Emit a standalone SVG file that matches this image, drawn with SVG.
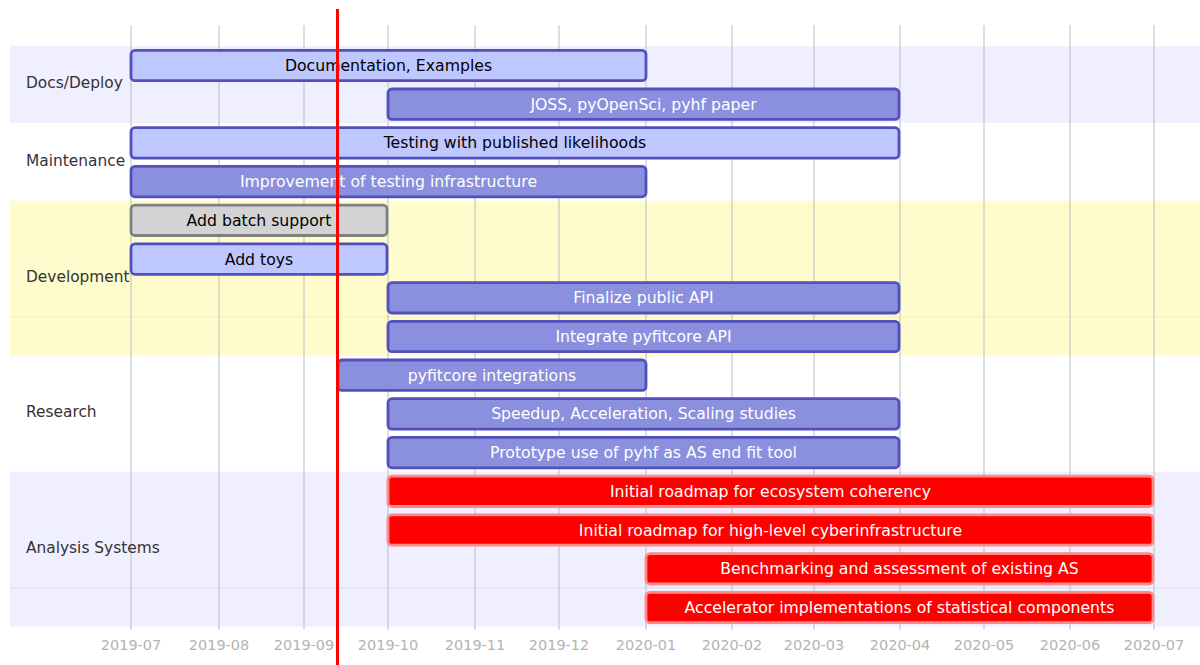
<svg xmlns="http://www.w3.org/2000/svg" width="1200" height="665" viewBox="0 0 1200 665">
  <style>
    text { font-family: "DejaVu Sans", Verdana, sans-serif; }
    .band-a { fill: #efefff; }
    .band-b { fill: #ffffff; }
    .band-c { fill: #fefbcc; }
    .grid { stroke: #bdbdbd; stroke-width: 1; }
    .tick { font-size: 14.5px; fill: #b3b3b3; text-anchor: middle; }
    .section { font-size: 15.4px; fill: #333333; }
    .task rect { stroke-width: 2.8; }
    .task text { font-size: 15.7px; text-anchor: middle; }
    .normal rect { fill: #8a90dd; stroke: #534fbc; }
    .normal text { fill: #ffffff; }
    .active rect { fill: #bfc7ff; stroke: #534fbc; }
    .active text { fill: #000000; }
    .done rect { fill: #d3d3d3; stroke: #808080; }
    .done text { fill: #000000; }
    .crit rect { fill: #ff0000; stroke: #ff8888; }
    .crit text { fill: #ffffff; }
    .today { stroke: #ff0000; stroke-width: 3; }
  </style>

  <!-- section background bands -->
  <g id="bands">
    <rect class="band-a" x="10" y="45.9" width="1190" height="77.4"/>
    <rect class="band-b" x="10" y="123.3" width="1190" height="77.4"/>
    <rect class="band-c" x="10" y="200.7" width="1190" height="154.9"/>
    <line x1="10" y1="316.8" x2="1200" y2="316.8" stroke="#f8f0b8" stroke-width="1"/>
    <rect class="band-b" x="10" y="355.6" width="1190" height="116.1"/>
    <rect class="band-a" x="10" y="471.7" width="1190" height="154.9"/>
    <line x1="10" y1="587.8" x2="1200" y2="587.8" stroke="#dcdcf8" stroke-width="1"/>
  </g>

  <!-- month grid and axis labels -->
  <g id="axis">
    <line class="grid" x1="131" y1="25" x2="131" y2="630"/>
    <line class="grid" x1="219" y1="25" x2="219" y2="630"/>
    <line class="grid" x1="304" y1="25" x2="304" y2="630"/>
    <line class="grid" x1="388" y1="25" x2="388" y2="630"/>
    <line class="grid" x1="475" y1="25" x2="475" y2="630"/>
    <line class="grid" x1="559" y1="25" x2="559" y2="630"/>
    <line class="grid" x1="646" y1="25" x2="646" y2="630"/>
    <line class="grid" x1="732" y1="25" x2="732" y2="630"/>
    <line class="grid" x1="814" y1="25" x2="814" y2="630"/>
    <line class="grid" x1="900" y1="25" x2="900" y2="630"/>
    <line class="grid" x1="984" y1="25" x2="984" y2="630"/>
    <line class="grid" x1="1070" y1="25" x2="1070" y2="630"/>
    <line class="grid" x1="1154" y1="25" x2="1154" y2="630"/>
    <text class="tick" x="131" y="650">2019-07</text>
    <text class="tick" x="219" y="650">2019-08</text>
    <text class="tick" x="304" y="650">2019-09</text>
    <text class="tick" x="388" y="650">2019-10</text>
    <text class="tick" x="475" y="650">2019-11</text>
    <text class="tick" x="559" y="650">2019-12</text>
    <text class="tick" x="646" y="650">2020-01</text>
    <text class="tick" x="732" y="650">2020-02</text>
    <text class="tick" x="814" y="650">2020-03</text>
    <text class="tick" x="900" y="650">2020-04</text>
    <text class="tick" x="984" y="650">2020-05</text>
    <text class="tick" x="1070" y="650">2020-06</text>
    <text class="tick" x="1154" y="650">2020-07</text>
  </g>

  <!-- section titles -->
  <g id="sections">
    <text class="section" x="26" y="88">Docs/Deploy</text>
    <text class="section" x="26" y="166">Maintenance</text>
    <text class="section" x="26" y="282">Development</text>
    <text class="section" x="26" y="417">Research</text>
    <text class="section" x="26" y="553">Analysis Systems</text>
  </g>

  <!-- tasks -->
  <g id="task-docs" class="task active">
    <rect x="131" y="50.3" width="515" height="30.4" rx="4"/>
    <text x="388.5" y="71">Documentation, Examples</text>
  </g>
  <g id="task-joss" class="task normal">
    <rect x="388" y="89" width="511" height="30.4" rx="4"/>
    <text x="643.5" y="109.7">JOSS, pyOpenSci, pyhf paper</text>
  </g>
  <g id="task-testing" class="task active">
    <rect x="131" y="127.7" width="768" height="30.4" rx="4"/>
    <text x="515" y="148.4">Testing with published likelihoods</text>
  </g>
  <g id="task-infra" class="task normal">
    <rect x="131" y="166.4" width="515" height="30.4" rx="4"/>
    <text x="388.5" y="187.1">Improvement of testing infrastructure</text>
  </g>
  <g id="task-batch" class="task done">
    <rect x="131" y="205.1" width="256" height="30.4" rx="4"/>
    <text x="259" y="225.8">Add batch support</text>
  </g>
  <g id="task-toys" class="task active">
    <rect x="131" y="243.9" width="256" height="30.4" rx="4"/>
    <text x="259" y="264.6">Add toys</text>
  </g>
  <g id="task-api" class="task normal">
    <rect x="388" y="282.6" width="511" height="30.4" rx="4"/>
    <text x="643.5" y="303.3">Finalize public API</text>
  </g>
  <g id="task-pyfitcore-api" class="task normal">
    <rect x="388" y="321.3" width="511" height="30.4" rx="4"/>
    <text x="643.5" y="342">Integrate pyfitcore API</text>
  </g>
  <g id="task-pyfitcore-int" class="task normal">
    <rect x="338" y="360" width="308" height="30.4" rx="4"/>
    <text x="492" y="380.7">pyfitcore integrations</text>
  </g>
  <g id="task-speedup" class="task normal">
    <rect x="388" y="398.7" width="511" height="30.4" rx="4"/>
    <text x="643.5" y="419.4">Speedup, Acceleration, Scaling studies</text>
  </g>
  <g id="task-prototype" class="task normal">
    <rect x="388" y="437.4" width="511" height="30.4" rx="4"/>
    <text x="643.5" y="458.1">Prototype use of pyhf as AS end fit tool</text>
  </g>
  <g id="task-ecosystem" class="task crit">
    <rect x="388" y="476.1" width="765" height="30.4" rx="4"/>
    <text x="770.5" y="496.8">Initial roadmap for ecosystem coherency</text>
  </g>
  <g id="task-cyberinfra" class="task crit">
    <rect x="388" y="514.8" width="765" height="30.4" rx="4"/>
    <text x="770.5" y="535.5">Initial roadmap for high-level cyberinfrastructure</text>
  </g>
  <g id="task-benchmark" class="task crit">
    <rect x="646" y="553.6" width="507" height="30.4" rx="4"/>
    <text x="899.5" y="574.3">Benchmarking and assessment of existing AS</text>
  </g>
  <g id="task-accelerator" class="task crit">
    <rect x="646" y="592.3" width="507" height="30.4" rx="4"/>
    <text x="899.5" y="613">Accelerator implementations of statistical components</text>
  </g>

  <!-- today marker -->
  <g id="connectors">
    <line class="today" x1="337.5" y1="9" x2="337.5" y2="665"/>
  </g>
</svg>
